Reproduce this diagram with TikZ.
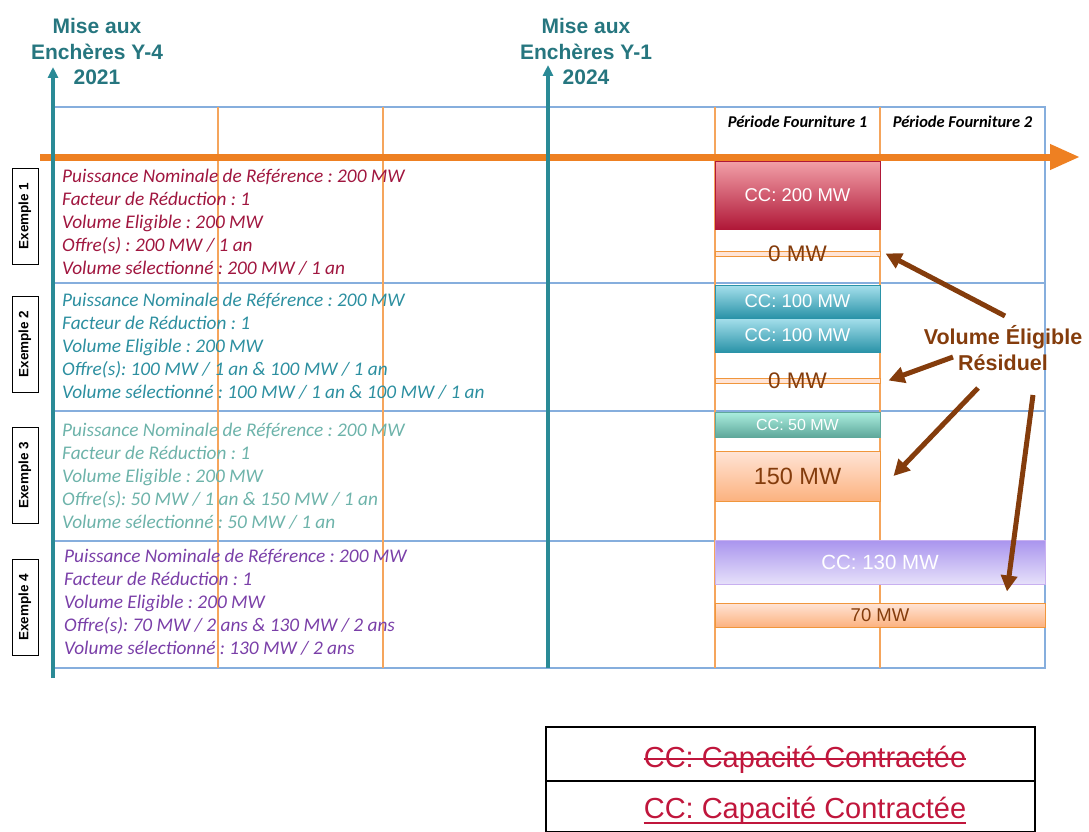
\documentclass[tikz,border=0pt]{standalone}
\usepackage{fontspec}
\setmainfont{Liberation Sans}
\newfontfamily\calfont{Carlito}
\usetikzlibrary{arrows.meta}
\frenchspacing
\definecolor{tealLbl}{HTML}{26767F}
\definecolor{tealArr}{HTML}{2A8A96}
\definecolor{orgArr}{HTML}{EE8022}
\definecolor{orgLine}{HTML}{F5A55C}
\definecolor{gridBlue}{HTML}{86AEDD}
\definecolor{exA}{HTML}{A0163F}
\definecolor{exB}{HTML}{2C8FA0}
\definecolor{exC}{HTML}{6DB3AA}
\definecolor{exD}{HTML}{7A3FA8}
\definecolor{brownC}{HTML}{843C0C}
\definecolor{legRed}{HTML}{C0163C}
\definecolor{redTop}{HTML}{F2A0A8}
\definecolor{redBot}{HTML}{B01838}
\definecolor{cyTop}{HTML}{A6E0EC}
\definecolor{cyBot}{HTML}{2A93A8}
\definecolor{mnTop}{HTML}{ABEEDF}
\definecolor{mnBot}{HTML}{5FA89B}
\definecolor{pcTop}{HTML}{FFE4D6}
\definecolor{pcBot}{HTML}{FCB27F}
\definecolor{pcBorder}{HTML}{F0963C}
\definecolor{puTop}{HTML}{A994EE}
\definecolor{puBot}{HTML}{E6E0FA}
\definecolor{puBorder}{HTML}{C8B0F0}
\tikzset{
  gridline/.style={draw=gridBlue, line width=1.3pt},
  orgline/.style={draw=orgLine, line width=1.3pt},
  mise/.style={align=center, text=tealLbl, font=\bfseries\fontsize{21}{25.5}\selectfont},
  exbox/.style={draw, line width=1pt, rotate=90, minimum width=96pt, minimum height=26pt, inner sep=0pt, font=\bfseries\fontsize{13.5}{15}\selectfont},
  ittext/.style={anchor=base west, inner sep=0pt, font=\calfont\itshape\fontsize{19.3}{22}\selectfont},
  phead/.style={inner sep=0pt, font=\calfont\bfseries\itshape\fontsize{16.5}{18}\selectfont},
  ccbox/.style={draw, line width=1pt, inner sep=0pt, text=white},
  peach/.style={draw=pcBorder, line width=1pt, top color=pcTop, bottom color=pcBot, inner sep=0pt, text=brownC},
  zerobar/.style={draw=pcBorder, line width=1pt, fill=pcTop, inner sep=0pt, minimum width=165pt, minimum height=5pt},
  brownarrow/.style={draw=brownC, line width=5pt, -{Triangle[length=16pt,width=16pt]}},
  tealarrow/.style={draw=tealArr, line width=3.5pt, -{Triangle[length=11pt,width=10pt]}},
  legtext/.style={text=legRed, font=\fontsize{29}{31}\selectfont, inner sep=0pt},
}
\begin{document}
\begin{tikzpicture}[x=1pt,y=-1pt]
\useasboundingbox (0,0) rectangle (1089,832);
% grid
\draw[gridline] (53,107) rectangle (1045,668);
\foreach \yy in {283,411,541} \draw[gridline] (53,\yy) -- (1045,\yy);
\foreach \xx in {218,383,715,880} \draw[orgline] (\xx,107) -- (\xx,668);
% time axis
\coordinate (oa) at (40,157);
\coordinate (ob) at (1080,157);
\draw[draw=orgArr, line width=7pt, -{Triangle[length=30pt,width=24pt]}] (oa) -- (ob);
% teal arrows
\coordinate (t4b) at (53,678);
\coordinate (t4t) at (53,67);
\coordinate (t1b) at (548,668);
\coordinate (t1t) at (548,65);
\draw[tealarrow] (t4b) -- (t4t);
\draw[tealarrow] (t1b) -- (t1t);
% top labels
\node[mise] (m4) at (97,51.5) {Mise aux\\Enchères Y-4\\2021};
\node[mise] (m1) at (586,51.5) {Mise aux\\Enchères Y-1\\2024};
\node[phead] (pf1) at (797.5,122) {Période Fourniture 1};
\node[phead] (pf2) at (962.5,122) {Période Fourniture 2};
% exemple boxes
\node[exbox] (ex1) at (25,216) {Exemple 1};
\node[exbox] (ex2) at (25,344) {Exemple 2};
\node[exbox] (ex3) at (25,475.5) {Exemple 3};
\node[exbox] (ex4) at (25,607.5) {Exemple 4};
% example texts
\node[ittext, text=exA] (a1) at (62,182) {Puissance Nominale de Référence : 200 MW};
\node[ittext, text=exA] (a2) at (62,205) {Facteur de Réduction : 1};
\node[ittext, text=exA] (a3) at (62,228) {Volume Eligible : 200 MW};
\node[ittext, text=exA] (a4) at (62,251) {Offre(s) : 200 MW / 1 an};
\node[ittext, text=exA] (a5) at (62,274) {Volume sélectionné : 200 MW / 1 an};
\node[ittext, text=exB] (b1) at (62,306) {Puissance Nominale de Référence : 200 MW};
\node[ittext, text=exB] (b2) at (62,329) {Facteur de Réduction : 1};
\node[ittext, text=exB] (b3) at (62,352) {Volume Eligible : 200 MW};
\node[ittext, text=exB] (b4) at (62,375) {Offre(s): 100 MW / 1 an \& 100 MW / 1 an};
\node[ittext, text=exB] (b5) at (62,398) {Volume sélectionné : 100 MW / 1 an \& 100 MW / 1 an};
\node[ittext, text=exC] (c1) at (62,436) {Puissance Nominale de Référence : 200 MW};
\node[ittext, text=exC] (c2) at (62,459) {Facteur de Réduction : 1};
\node[ittext, text=exC] (c3) at (62,482) {Volume Eligible : 200 MW};
\node[ittext, text=exC] (c4) at (62,505) {Offre(s): 50 MW / 1 an \& 150 MW / 1 an};
\node[ittext, text=exC] (c5) at (62,528) {Volume sélectionné : 50 MW / 1 an};
\node[ittext, text=exD] (d1) at (64,562) {Puissance Nominale de Référence : 200 MW};
\node[ittext, text=exD] (d2) at (64,585) {Facteur de Réduction : 1};
\node[ittext, text=exD] (d3) at (64,608) {Volume Eligible : 200 MW};
\node[ittext, text=exD] (d4) at (64,631) {Offre(s): 70 MW / 2 ans \& 130 MW / 2 ans};
\node[ittext, text=exD] (d5) at (64,654) {Volume sélectionné : 130 MW / 2 ans};
% right side boxes
\node[ccbox, draw=redBot, top color=redTop, bottom color=redBot, minimum width=165pt, minimum height=68pt, font=\fontsize{18.5}{20}\selectfont] (cc200) at (797.5,195) {CC: 200 MW};
\node[zerobar] (zero1) at (797.5,253.5) {};
\node[text=brownC, font=\fontsize{22.5}{24}\selectfont, inner sep=0pt] (z1t) at (797.5,254) {0 MW};
\node[ccbox, draw=cyBot, top color=cyTop, bottom color=cyBot, minimum width=165pt, minimum height=33pt, font=\fontsize{18.5}{20}\selectfont] (cc100a) at (797.5,301.5) {CC: 100 MW};
\node[ccbox, draw=cyBot, top color=cyTop, bottom color=cyBot, minimum width=165pt, minimum height=34pt, font=\fontsize{18.5}{20}\selectfont] (cc100b) at (797.5,335) {CC: 100 MW};
\node[zerobar] (zero2) at (797.5,380.5) {};
\node[text=brownC, font=\fontsize{22.5}{24}\selectfont, inner sep=0pt] (z2t) at (797.5,381) {0 MW};
\node[ccbox, draw=mnBot, top color=mnTop, bottom color=mnBot, minimum width=165pt, minimum height=25pt, font=\fontsize{16}{18}\selectfont] (cc50) at (797.5,424.5) {CC: 50 MW};
\node[peach, minimum width=165pt, minimum height=50pt, font=\fontsize{23.5}{25}\selectfont] (b150) at (797.5,476) {150 MW};
\node[ccbox, draw=puBorder, top color=puTop, bottom color=puBot, minimum width=330pt, minimum height=44pt, font=\fontsize{20.5}{22}\selectfont] (cc130) at (880,562) {CC: 130 MW};
\node[peach, minimum width=330pt, minimum height=24pt, font=\fontsize{18.5}{20}\selectfont] (b70) at (880,615) {70 MW};
% residual label and arrows
\node[align=center, text=brownC, font=\bfseries\fontsize{21.5}{26}\selectfont] (ver) at (1003,348) {Volume Éligible\\Résiduel};
\coordinate (s1) at (1005,316);
\coordinate (s2) at (953,357);
\coordinate (s3) at (978,388);
\coordinate (s4) at (1033,395);
\draw[brownarrow] (s1) -- ([xshift=5pt]zero1.east);
\draw[brownarrow] (s2) -- ([xshift=8pt]zero2.east);
\draw[brownarrow] (s3) -- ([xshift=13pt]b150.east);
\draw[brownarrow] (s4) -- ([xshift=127pt,yshift=11pt]b70.north);
% legend
\draw[line width=1.8pt] (546,727) rectangle (1035,832);
\draw[line width=1.8pt] (546,781) -- (1035,781);
\node[legtext, anchor=base] (leg1) at (805,767.5) {CC: Capacité Contractée};
\node[legtext, anchor=base] (leg2) at (805,818.5) {CC: Capacité Contractée};
\draw[legRed, line width=1.8pt] ([yshift=8.5pt]leg1.base west) -- ([yshift=8.5pt]leg1.base east);
\draw[legRed, line width=2pt] ([yshift=-4.5pt]leg2.base west) -- ([yshift=-4.5pt]leg2.base east);
\end{tikzpicture}
\end{document}
